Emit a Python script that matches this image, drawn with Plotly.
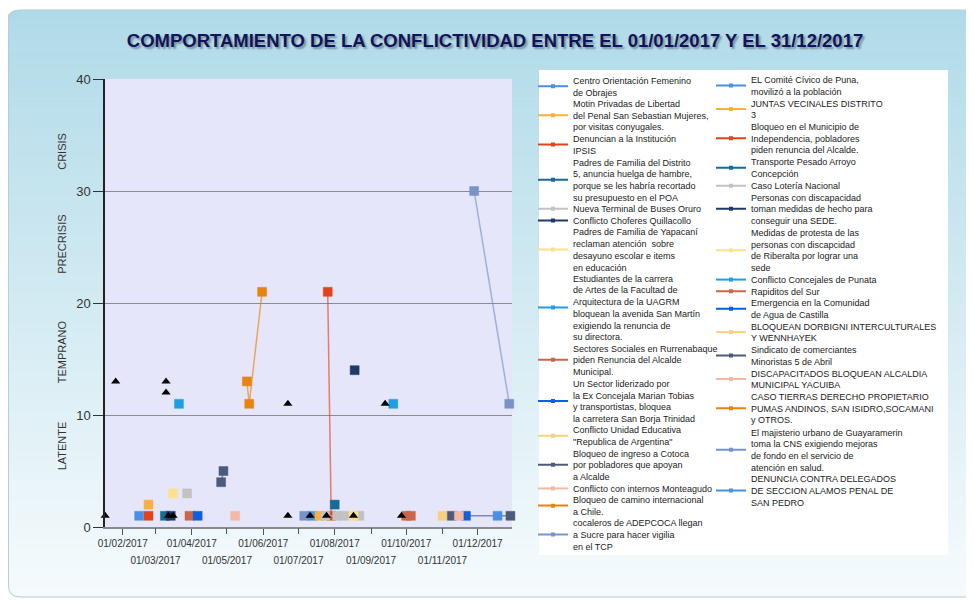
import plotly.graph_objects as go

# ---------------- data ----------------
series_names = [
    "Centro Orientación Femenino<br>de Obrajes",
    "Motin Privadas de Libertad<br>del Penal San Sebastian Mujeres,<br>por visitas conyugales.",
    "Denuncian a la Institución<br>IPSIS",
    "Padres de Familia del Distrito<br>5, anuncia huelga de hambre,<br>porque se les habría recortado<br>su presupuesto en el POA",
    "Nueva Terminal de Buses Oruro",
    "Conflicto Choferes Quillacollo",
    "Padres de Familia de Yapacaní<br>reclaman atención  sobre<br>desayuno escolar e items<br>en educación",
    "Estudiantes de la carrera<br>de Artes de la Facultad de<br>Arquitectura de la UAGRM<br>bloquean la avenida San Martín<br>exigiendo la renuncia de<br>su directora.",
    "Sectores Sociales en Rurrenabaque<br>piden Renuncia del Alcalde<br>Municipal.",
    "Un Sector liderizado por<br>la Ex Concejala Marian Tobias<br>y transportistas, bloquea<br>la carretera San Borja Trinidad",
    "Conflicto Unidad Educativa<br>\"Republica de Argentina\"",
    "Bloqueo de ingreso a Cotoca<br>por pobladores que apoyan<br>a Alcalde",
    "Conflicto con internos Monteagudo",
    "Bloqueo de camino internacional<br>a Chile.",
    "cocaleros de ADEPCOCA llegan<br>a Sucre para hacer vigilia<br>en el TCP",
    "EL Comité Cívico de Puna,<br>movilizó a la población",
    "JUNTAS VECINALES DISTRITO<br>3",
    "Bloqueo en el Municipio de<br>Independencia, pobladores<br>piden renuncia del Alcalde.",
    "Transporte Pesado Arroyo<br>Concepción",
    "Caso Lotería Nacional",
    "Personas con discapacidad<br>toman medidas de hecho para<br>conseguir una SEDE.",
    "Medidas de protesta de las<br>personas con discapcidad<br>de Riberalta por lograr una<br>sede",
    "Conflicto Concejales de Punata",
    "Rapiditos del Sur",
    "Emergencia en la Comunidad<br>de Agua de Castilla",
    "BLOQUEAN DORBIGNI INTERCULTURALES<br>Y WENNHAYEK",
    "Sindicato de comerciantes<br>Minoristas 5 de Abril",
    "DISCAPACITADOS BLOQUEAN ALCALDIA<br>MUNICIPAL YACUIBA",
    "CASO TIERRAS DERECHO PROPIETARIO<br>PUMAS ANDINOS, SAN ISIDRO,SOCAMANI<br>y OTROS.",
    "El majisterio urbano de Guayaramerin<br>toma la CNS exigiendo mejoras<br>de fondo en el servicio de<br>atención en salud.",
    "DENUNCIA CONTRA DELEGADOS<br>DE SECCION ALAMOS PENAL DE<br>SAN PEDRO",
]

palette = ["#4a90e6", "#fbb03b", "#e2431c", "#176c96", "#c2c2c2",
           "#1f3a68", "#ffe08a", "#1e9fe0", "#cc6648", "#0a5fe4",
           "#f5d27e", "#4c5b7c", "#f3b9a6", "#e8840e", "#7893c8"]

series_dates = [
    ["2017-02-15"],
    ["2017-02-23"],
    ["2017-02-23"],
    ["2017-03-09"],
    ["2017-03-28"],
    ["2017-03-14"],
    ["2017-03-16"],
    ["2017-03-21"],
    ["2017-03-30"],
    ["2017-04-06"],
    [None],
    ["2017-04-26", "2017-04-28"],
    ["2017-05-08"],
    ["2017-05-18", "2017-05-20", "2017-05-31"],
    ["2017-07-06"],
    ["2017-07-13"],
    ["2017-07-19"],
    ["2017-07-26", "2017-07-29"],
    ["2017-08-01"],
    ["2017-07-24", "2017-08-03", "2017-08-09", "2017-08-22"],
    ["2017-08-18"],
    ["2017-08-17"],
    ["2017-09-20"],
    ["2017-10-01", "2017-10-05"],
    ["2017-11-21"],
    ["2017-11-01"],
    ["2017-11-09", "2017-12-29"],
    ["2017-11-15"],
    [None],
    ["2017-11-28", "2017-12-28"],
    ["2017-12-18"],
]

series_values = [
    [1], [2], [1], [1], [3], [1], [3], [11], [1], [1], [None],
    [4, 5], [1], [13, 11, 21], [1],
    [1], [1], [21, 1], [2], [1, 1, 1, 1], [14], [1], [11], [1, 1],
    [1], [1], [1, 1], [1], [None], [30, 11], [1],
]

event_dates = ["2017-01-17", "2017-01-26", "2017-03-10", "2017-03-10", "2017-03-12",
               "2017-03-16", "2017-06-22", "2017-06-22", "2017-07-11", "2017-07-25",
               "2017-08-17", "2017-09-13", "2017-09-27"]
event_values = [1, 13, 13, 12, 1, 1, 11, 1, 1, 1, 1, 11, 1]

x_tick_vals_a = ["2017-02-01", "2017-04-01", "2017-06-01", "2017-08-01", "2017-10-01", "2017-12-01"]
x_tick_text_a = ["01/02/2017", "01/04/2017", "01/06/2017", "01/08/2017", "01/10/2017", "01/12/2017"]
x_tick_vals_b = ["2017-03-01", "2017-05-01", "2017-07-01", "2017-09-01", "2017-11-01"]
x_tick_text_b = ["01/03/2017", "01/05/2017", "01/07/2017", "01/09/2017", "01/11/2017"]

zone_labels = ["CRISIS", "PRECRISIS", "TEMPRANO", "LATENTE"]
zone_positions = [33.5, 25.2, 15.6, 7.2]

title_text = "COMPORTAMIENTO DE LA CONFLICTIVIDAD ENTRE EL 01/01/2017 Y EL 31/12/2017"
x_range = ["2017-01-16 21:00", "2017-12-30 08:00"]

# ---------------- geometry helpers ----------------
# the page body has an 8px margin, so the figure is sized/offset to fill the window
OFF = 8
W, H = 974 - OFF, 601 - OFF
ML, MT = 105 - OFF, 79 - OFF
PW, PH = 407, 448
MR = W - ML - PW
MB = H - MT - PH


def px(x):
    """page x (reference pixels) -> paper x"""
    return (x - OFF - ML) / PW


def py(y):
    """page y (reference pixels) -> paper y"""
    return (H - MB - (y - OFF)) / PH


def cx(x):
    return (x - OFF) / W


def cy(y):
    return 1 - (y - OFF) / H


def rgba(hexc, a):
    h = hexc.lstrip("#")
    return "rgba(%d,%d,%d,%.2f)" % (int(h[0:2], 16), int(h[2:4], 16), int(h[4:6], 16), a)


fig = go.Figure()

# data traces
for i, name in enumerate(series_names):
    col = palette[i % len(palette)]
    fig.add_trace(go.Scatter(
        x=series_dates[i], y=series_values[i], mode="lines+markers",
        name=name.replace("<br>", " "), legendgroup="g%d" % i, showlegend=False,
        line=dict(color=rgba(col, 0.65), width=1.5),
        marker=dict(symbol="square", size=9, color=col,
                    line=dict(color=rgba(col, 0.45), width=1)),
        cliponaxis=False,
    ))

# events (black triangles)
fig.add_trace(go.Scatter(
    x=event_dates, y=event_values, mode="markers", name="Eventos",
    showlegend=False, xaxis="x2",
    marker=dict(symbol="triangle-up", size=8, color="black"),
    cliponaxis=False,
))

# legend entries (one small legend per entry, laid out in two columns)
layout_legends = {}
cols = [(list(range(0, 15)), 533, 80.7, 11.65), (list(range(15, 31)), 711, 80.0, 11.74)]
for idxs, xleft, y0, pitch in cols:
    line_no = 0
    for i in idxs:
        n = series_names[i].count("<br>") + 1
        center = y0 + (line_no + (n - 1) / 2) * pitch
        line_no += n
        lid = "legend" if i == 0 else "legend%d" % (i + 1)
        col = palette[i % len(palette)]
        fig.add_trace(go.Scatter(
            x=[None], y=[None], mode="lines+markers", name=series_names[i],
            legendgroup="g%d" % i, legend=lid, showlegend=True,
            line=dict(color=col, width=2),
            marker=dict(symbol="square", size=4, color=col),
            hoverinfo="skip",
        ))
        layout_legends[lid] = dict(
            xref="container", yref="container",
            x=cx(xleft), y=cy(center), xanchor="left", yanchor="middle",
            bgcolor="rgba(0,0,0,0)", borderwidth=0, itemwidth=30,
            font=dict(family="Liberation Sans, Arial, sans-serif", size=9, color="#222222"),
        )

# ---------------- background shapes ----------------
shapes = []
top_c = (176, 218, 232)
bot_c = (246, 251, 253)
y_top, y_bot = 10, 598
nstrip = 60
for k in range(nstrip):
    ya = y_top + (y_bot - y_top) * k / nstrip
    yb = y_top + (y_bot - y_top) * (k + 1) / nstrip + 0.6
    t = (k + 0.5) / nstrip
    c = tuple(int(round(top_c[j] + (bot_c[j] - top_c[j]) * t)) for j in range(3))
    shapes.append(dict(type="rect", xref="paper", yref="paper", layer="below",
                       x0=px(5), x1=px(974 + 5), y0=py(ya), y1=py(min(yb, y_bot)),
                       fillcolor="rgb(%d,%d,%d)" % c, line=dict(width=0)))

# rounded corner masks (top-left and bottom-left)
r = 12
shapes.append(dict(type="path", xref="paper", yref="paper", layer="below",
                   path="M %f,%f L %f,%f Q %f,%f %f,%f Z" % (
                       px(4), py(9), px(8 + r), py(9), px(8), py(10), px(4), py(10 + r)),
                   fillcolor="white", line=dict(width=0)))
shapes.append(dict(type="path", xref="paper", yref="paper", layer="below",
                   path="M %f,%f L %f,%f Q %f,%f %f,%f Z" % (
                       px(4), py(599), px(8 + r), py(599), px(8), py(598), px(4), py(598 - r)),
                   fillcolor="white", line=dict(width=0)))
# panel outline
shapes.append(dict(type="path", xref="paper", yref="paper", layer="below",
                   path="M %f,%f L %f,%f Q %f,%f %f,%f L %f,%f Q %f,%f %f,%f L %f,%f" % (
                       px(974 + 5), py(10), px(8 + r), py(10), px(8.5), py(10), px(8.5), py(10 + r),
                       px(8.5), py(597 - r), px(8.5), py(597), px(8 + r), py(597), px(974 + 5), py(597)),
                   line=dict(color="#b8cdd4", width=1)))
# legend white box
shapes.append(dict(type="rect", xref="paper", yref="paper", layer="below",
                   x0=px(539), x1=px(948), y0=py(70), y1=py(555),
                   fillcolor="white", line=dict(width=0)))
# plot area background
shapes.append(dict(type="rect", xref="paper", yref="paper", layer="below",
                   x0=0, x1=1, y0=0, y1=1,
                   fillcolor="#e6e6fa", line=dict(width=0)))

# zone annotations
annotations = []
for lab, pos in zip(zone_labels, zone_positions):
    annotations.append(dict(text=lab, xref="paper", yref="y", x=px(62), y=pos,
                            textangle=-90, showarrow=False, xanchor="center", yanchor="middle",
                            font=dict(family="Liberation Sans, Arial, sans-serif", size=11, color="#333333")))

fig.update_layout(
    width=W, height=H,
    margin=dict(l=ML, r=MR, t=MT, b=MB, pad=0, autoexpand=False),
    paper_bgcolor="white",
    plot_bgcolor="#e6e6fa",
    showlegend=True,
    title=dict(text="<b>" + title_text + "</b>", xref="container", yref="container",
               x=cx(495), y=cy(41), xanchor="center", yanchor="middle",
               font=dict(family="Liberation Sans, Arial, sans-serif",
                         size=18.5, color="#12135a", shadow="2px 2px 2px rgba(0,0,0,0.35)")),
    xaxis=dict(type="date", range=x_range, tickmode="array",
               tickvals=x_tick_vals_a, ticktext=x_tick_text_a,
               ticks="outside", ticklen=6, tickcolor="#555555", tickwidth=1,
               showline=True, linecolor="#8a8a8a", linewidth=2,
               showgrid=False, zeroline=False,
               tickfont=dict(family="Liberation Sans, Arial, sans-serif", size=10, color="#333333")),
    xaxis2=dict(type="date", range=x_range, overlaying="x", anchor="y", side="bottom",
                tickmode="array", tickvals=x_tick_vals_b, ticktext=x_tick_text_b,
                ticks="outside", ticklen=6, tickcolor="#555555", tickwidth=1,
                ticklabelstandoff=18,
                showline=False, showgrid=False, zeroline=False,
                tickfont=dict(family="Liberation Sans, Arial, sans-serif", size=10, color="#333333")),
    yaxis=dict(range=[0, 40], tickmode="array", tickvals=[0, 10, 20, 30, 40],
               ticks="outside", ticklen=10, tickcolor="#333333",
               showline=True, linecolor="#222222", linewidth=1.5,
               showgrid=True, gridcolor="#8c8c8c", gridwidth=1, zeroline=False,
               tickfont=dict(family="Liberation Sans, Arial, sans-serif", size=13, color="#333333")),
    shapes=shapes,
    annotations=annotations,
    hovermode="closest",
    **layout_legends,
)

fig.write_html("out.html")
